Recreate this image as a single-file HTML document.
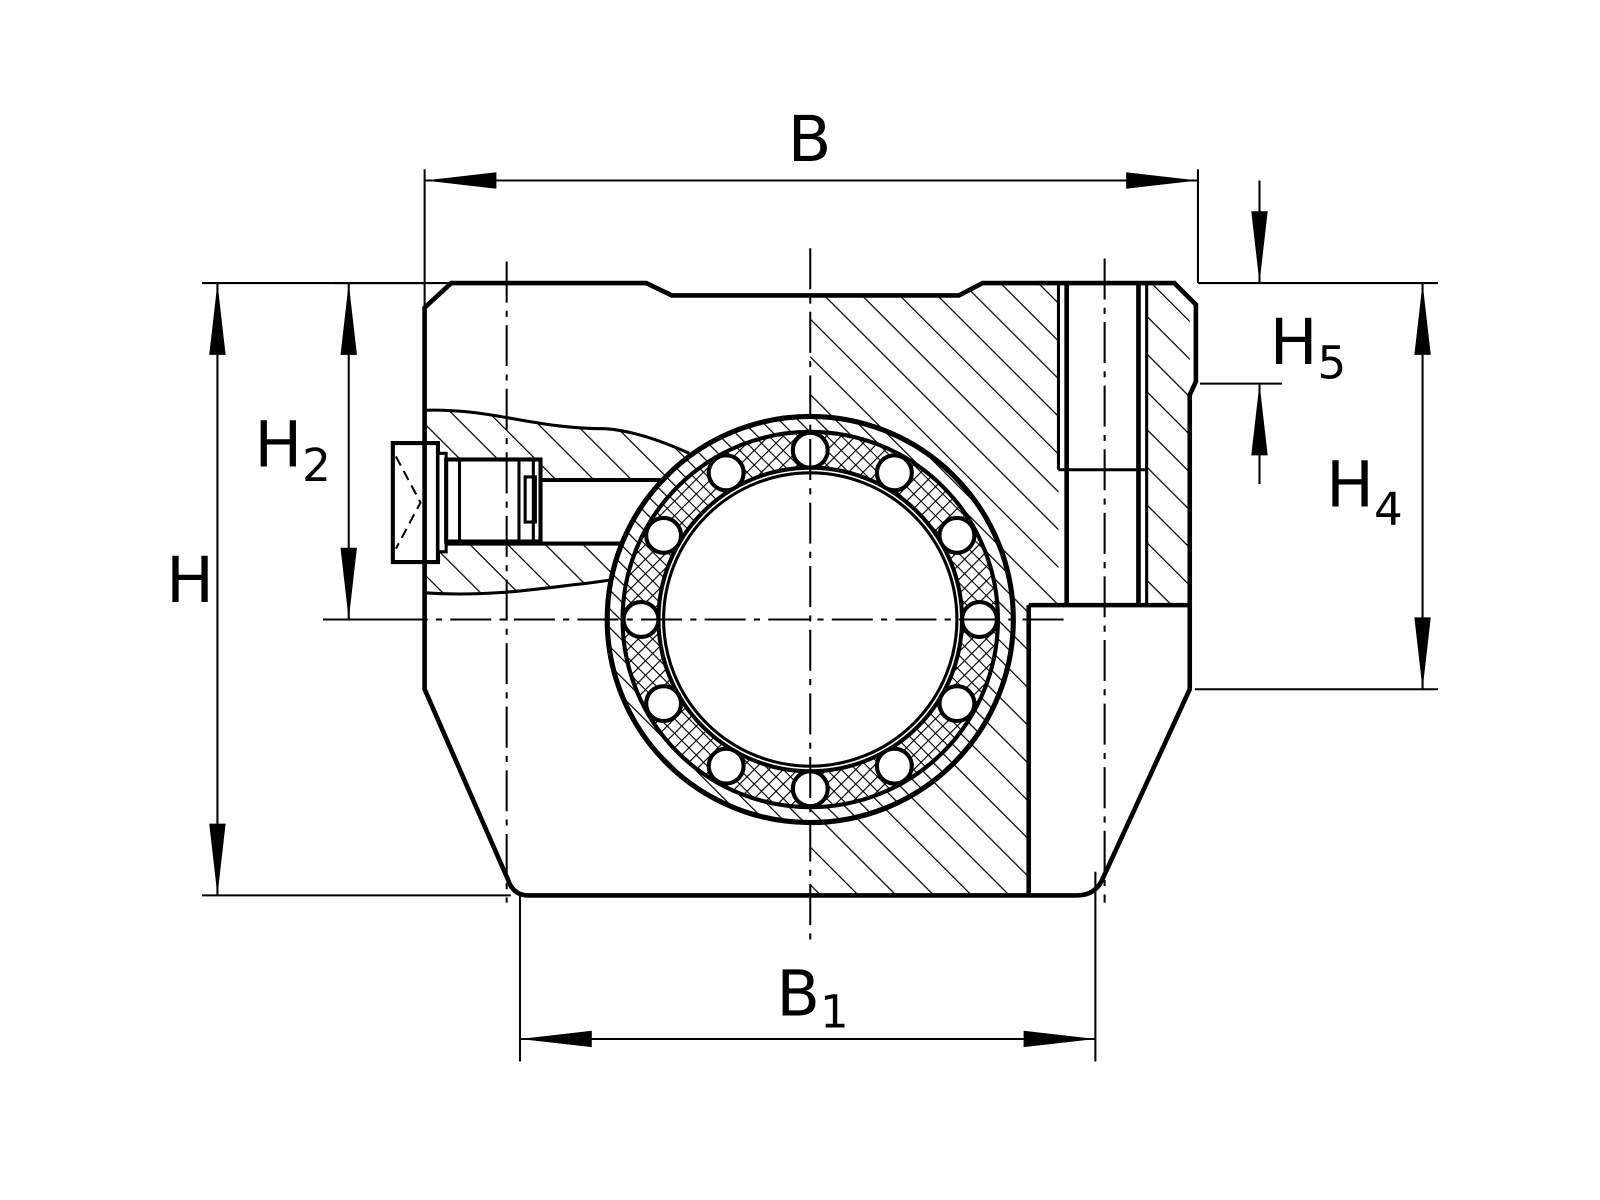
<!DOCTYPE html>
<html><head><meta charset="utf-8"><style>html,body{margin:0;padding:0;background:#fff}svg{display:block}</style></head>
<body>
<svg width="1600" height="1200" viewBox="0 0 1560 1170" xmlns="http://www.w3.org/2000/svg">
<defs>
<pattern id="h" patternUnits="userSpaceOnUse" width="26" height="26" patternTransform="rotate(-45)">
<line x1="0" y1="0" x2="0" y2="26" stroke="#000" stroke-width="2.4"/></pattern>
<pattern id="h2" patternUnits="userSpaceOnUse" width="13" height="13" patternTransform="rotate(-45)">
<line x1="0" y1="0" x2="0" y2="13" stroke="#000" stroke-width="2.4"/></pattern>
<pattern id="x" patternUnits="userSpaceOnUse" width="10" height="10" patternTransform="rotate(45)">
<path d="M0 0V10M0 0H10" stroke="#000" stroke-width="2.2" fill="none"/></pattern>
</defs>
<g fill="none" stroke="#000" stroke-linecap="butt">
<!-- hatched areas -->
<path d="M790 288 L935 288 L958 276 L1032 276 L1032 590 L1003 590 L1003 873 L790 873 Z" fill="url(#h)" stroke="none"/>
<path d="M1118 276 L1145 276 L1160 300 L1160 590 L1118 590 Z" fill="url(#h)" stroke="none"/>
<path d="M414 400 C480 398 520 418 590 418 C620 420 650 432 680 442 L680 575 C640 560 600 565 560 570 C520 575 470 582 414 578 Z" fill="url(#h)" stroke="none"/>
<!-- set screw -->
<rect x="430" y="468" width="220" height="62" fill="#fff" stroke="none"/>
<path d="M430 468H650M430 530H620" stroke-width="4"/>
<path d="M414 400 C480 398 520 418 590 418 C620 420 650 432 672 442" stroke-width="3"/>
<path d="M414 578 C470 582 520 575 560 570 C580 568 590 566 600 565" stroke-width="3"/>
<!-- bearing -->
<circle cx="790" cy="604" r="198" fill="#fff" stroke="none"/>
<circle cx="790" cy="604" r="190" fill="none" stroke="url(#h2)" stroke-width="14"/>
<circle cx="790" cy="604" r="165" fill="none" stroke="url(#x)" stroke-width="36"/>
<circle cx="790" cy="604" r="198" stroke-width="5"/>
<circle cx="790" cy="604" r="183" stroke-width="4"/>
<circle cx="790" cy="604" r="148" stroke-width="4"/>
<circle cx="790" cy="604" r="143" stroke-width="3" fill="#fff"/>
<g stroke-width="4" fill="#fff">
<circle cx="790" cy="439" r="17"/><circle cx="872" cy="461" r="17"/><circle cx="933" cy="522" r="17"/>
<circle cx="955" cy="604" r="17"/><circle cx="933" cy="686" r="17"/><circle cx="872" cy="747" r="17"/>
<circle cx="790" cy="769" r="17"/><circle cx="708" cy="747" r="17"/><circle cx="647" cy="686" r="17"/>
<circle cx="625" cy="604" r="17"/><circle cx="647" cy="522" r="17"/><circle cx="708" cy="461" r="17"/>
</g>
<rect x="383" y="432" width="44" height="116" stroke-width="4" fill="#fff"/>
<rect x="427" y="442" width="8" height="96" stroke-width="3" fill="#fff"/>
<rect x="435" y="448" width="92" height="80" stroke-width="4" fill="#fff"/>
<path d="M448 448V528M506 448V528M520 448V528" stroke-width="3"/>
<rect x="512" y="465" width="10" height="44" stroke-width="3"/>
<path d="M386 445L410 490L386 535" stroke-width="2" stroke-dasharray="10 6"/>
<!-- body outline -->
<path d="M440 276 L630 276 L655 288 L935 288 L958 276 L1145 276 L1166 297 L1166 372 L1160 385 L1160 672 L1075 857 Q1068 873 1050 873 L515 873 Q500 873 495 857 L414 672 L414 300 Z" stroke-width="4.5" fill="none"/>
<!-- right holes -->
<path d="M1032 276V458M1118 276V590M1032 458H1118" stroke-width="3"/>
<path d="M1040 276V590M1110 276V590M1003 590V873M1003 590H1160" stroke-width="4.5"/>
<!-- centerlines -->
<g stroke-width="2" stroke-dasharray="40 8 6 8">
<path d="M494 255V880M790 242V918M1077 252V880M315 604H1045"/>
</g>
<!-- dimensions -->
<g stroke-width="2">
<path d="M414 165V300M1168 165V276M414 176H1168"/>
<path d="M197 276H414M197 873H498M212 276V873"/>
<path d="M325 276H440M340 276V604M315 604H414"/>
<path d="M1168 276H1402M1165 672H1402M1387 276V672"/>
<path d="M1228 176V276M1228 374V472M1170 374H1250"/>
<path d="M507 873V1035M1068 850V1035M507 1013H1068"/>
</g>
<g fill="#000" stroke="none">
<path d="M414 176L484 168L484 184Z"/><path d="M1168 176L1098 168L1098 184Z"/>
<path d="M212 276L204 346L220 346Z"/><path d="M212 873L204 803L220 803Z"/>
<path d="M340 276L332 346L348 346Z"/><path d="M340 604L332 534L348 534Z"/>
<path d="M1387 276L1379 346L1395 346Z"/><path d="M1387 672L1379 602L1395 602Z"/>
<path d="M1228 276L1220 206L1236 206Z"/><path d="M1228 374L1220 444L1236 444Z"/>
<path d="M507 1013L577 1005L577 1021Z"/><path d="M1068 1013L998 1005L998 1021Z"/>
</g>
</g>
<g font-family="'DejaVu Sans','Liberation Sans',sans-serif" font-size="62" fill="#000">
<text x="768" y="157">B</text>
<text x="162" y="587">H</text>
<text x="248" y="455">H<tspan font-size="44" dy="14">2</tspan></text>
<text x="1238" y="355">H<tspan font-size="44" dy="14">5</tspan></text>
<text x="1293" y="494">H<tspan font-size="44" dy="18">4</tspan></text>
<text x="757" y="990">B<tspan font-size="44" dy="12">1</tspan></text>
</g>
</svg>
</body></html>
